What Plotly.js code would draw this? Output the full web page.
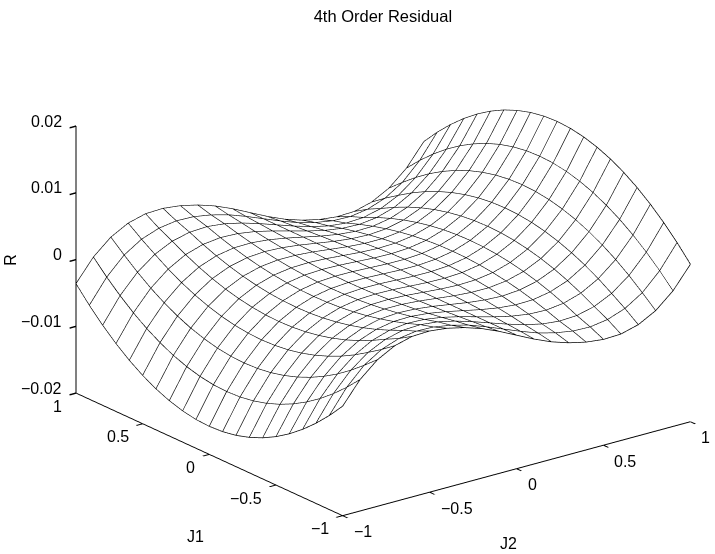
<!DOCTYPE html>
<html><head><meta charset="utf-8">
<script src="https://cdn.plot.ly/plotly-3.0.1.min.js"></script>
<style>html,body{margin:0;padding:0;background:#fff}#c{width:715px;height:554px}</style>
</head><body><div id="c"></div>
<script>
const J2 = [-1,-0.9,-0.8,-0.7,-0.6,-0.5,-0.4,-0.3,-0.2,-0.1,0,0.1,0.2,0.3,0.4,0.5,0.6,0.7,0.8,0.9,1];
const J1 = [-1,-0.9,-0.8,-0.7,-0.6,-0.5,-0.4,-0.3,-0.2,-0.1,0,0.1,0.2,0.3,0.4,0.5,0.6,0.7,0.8,0.9,1];
const R_e5 = [
[-360,-32,195,335,405,415,385,325,240,128,0,-128,-240,-325,-385,-415,-405,-335,-195,32,360],
[-592,-241,19,185,280,320,312,268,200,105,0,-105,-200,-268,-312,-320,-280,-185,-19,241,592],
[-799,-427,-147,51,177,241,255,227,168,89,0,-89,-168,-227,-255,-241,-177,-51,147,427,799],
[-982,-592,-294,-78,68,150,182,172,132,71,0,-71,-132,-172,-182,-150,-68,78,294,592,982],
[-1141,-735,-421,-189,-27,71,119,125,100,55,0,-55,-100,-125,-119,-71,27,189,421,735,1141],
[-1275,-855,-528,-282,-108,4,65,85,73,42,0,-42,-73,-85,-65,-4,108,282,528,855,1275],
[-1385,-954,-616,-359,-174,-51,21,52,51,31,0,-31,-51,-52,-21,51,174,359,616,954,1385],
[-1470,-1031,-684,-419,-225,-94,-13,26,34,22,0,-22,-34,-26,13,94,225,419,684,1031,1470],
[-1531,-1086,-733,-462,-262,-125,-37,8,22,16,0,-16,-22,-8,37,125,262,462,733,1086,1531],
[-1568,-1119,-762,-487,-284,-143,-52,-3,14,12,0,-12,-14,3,52,143,284,487,762,1119,1568],
[-1580,-1130,-772,-496,-291,-149,-57,-7,12,11,0,-11,-12,7,57,149,291,496,772,1130,1580],
[-1568,-1119,-762,-487,-284,-143,-52,-3,14,12,0,-12,-14,3,52,143,284,487,762,1119,1568],
[-1531,-1086,-733,-462,-262,-125,-37,8,22,16,0,-16,-22,-8,37,125,262,462,733,1086,1531],
[-1470,-1031,-684,-419,-225,-94,-13,26,34,22,0,-22,-34,-26,13,94,225,419,684,1031,1470],
[-1385,-954,-616,-359,-174,-51,21,52,51,31,0,-31,-51,-52,-21,51,174,359,616,954,1385],
[-1275,-855,-528,-282,-108,4,65,85,73,42,0,-42,-73,-85,-65,-4,108,282,528,855,1275],
[-1141,-735,-421,-189,-27,71,119,125,100,55,0,-55,-100,-125,-119,-71,27,189,421,735,1141],
[-982,-592,-294,-78,68,150,182,172,132,71,0,-71,-132,-172,-182,-150,-68,78,294,592,982],
[-799,-427,-147,51,177,241,255,227,168,89,0,-89,-168,-227,-255,-241,-177,-51,147,427,799],
[-592,-241,19,185,280,320,312,268,200,105,0,-105,-200,-268,-312,-320,-280,-185,-19,241,592],
[-360,-32,195,335,405,415,385,325,240,128,0,-128,-240,-325,-385,-415,-405,-335,-195,32,360]
];
const xyTicks = [-1,-0.5,0,0.5,1];
const xyLabels = ['\u22121','\u22120.5','0','0.5','1'];
const zTicks = [-0.02,-0.01,0,0.01,0.02];
const zLabels = ['\u22120.02','\u22120.01','0','0.01','0.02'];
const R = R_e5.map(r => r.map(v => v * 1e-5));
const font = {family:'Liberation Sans, Arial, sans-serif', size:16, color:'#000'};
const axis = (vals, range) => ({
  title:{text:''}, range:range, tickmode:'array', tickvals:vals, showticklabels:false,
  ticks:'outside', ticklen:8, tickcolor:'#000', tickwidth:3,
  showline:true, linecolor:'#000', linewidth:2, showgrid:false, zeroline:false,
  showbackground:false, showspikes:false
});
const note = (x,y,z,text,xanchor,xshift,yshift,extra) => Object.assign({
  x,y,z,text,xanchor,yanchor:'middle',xshift,yshift,showarrow:false,font:font
}, extra||{});
const annotations = [
  ...zTicks.map((v,i)=>note(-1,1,v,zLabels[i],'right',-12,5)),
  ...xyTicks.map((v,i)=>note(-1,v,-0.02,xyLabels[i],'right',-12,-13)),
  ...xyTicks.map((v,i)=>note(v,-1,-0.02,xyLabels[i],'left',9,-16)),
  note(-1,0,-0.02,'J1','center',-14,-82),
  note(0,-1,-0.02,'J2','center',-8,-75),
  note(-1,1,0,'R','center',-65,0,{textangle:-90})
];
const line = {show:true, start:-1, end:1, size:0.1, color:'#000', width:3, highlight:false};
const meshLine = (x,y,z) => ({type:'scatter3d', mode:'lines', x, y, z, hoverinfo:'skip', showlegend:false,
  line:{color:'#000', width:1.5}});
const rowLines = J1.map((v,i) => meshLine(J2, J2.map(()=>v), R[i]));
const colLines = J2.map((v,j) => meshLine(J1.map(()=>v), J1, R.map(r=>r[j])));
Plotly.newPlot('c', [{
  type:'surface', x:J2, y:J1, z:R, showscale:false, hoverinfo:'skip',
  colorscale:[[0,'#fff'],[1,'#fff']],
  lighting:{ambient:1, diffuse:0, specular:0, roughness:1, fresnel:0},
  contours:{x:line, y:line, z:{show:false, highlight:false}}
}, ...rowLines, ...colLines], {
  width:715, height:554, paper_bgcolor:'#fff', showlegend:false,
  margin:{l:0,r:0,t:0,b:0},
  title:{text:'4th Order Residual', font:Object.assign({},font,{size:16.5}), x:0.5355, xanchor:'center', y:0.971, yanchor:'middle'},
  scene:{
    domain:{x:[0,1],y:[0,1]},
    xaxis:axis(xyTicks, [-1,1]),
    yaxis:axis(xyTicks, [-1,1]),
    zaxis:axis(zTicks, [-0.02,0.02]),
    annotations:annotations,
    aspectmode:'manual', aspectratio:{x:1.582,y:1.582,z:1.03},
    camera:{projection:{type:'orthographic'}, center:{x:-0.0736,y:0.0567,z:-0.012}, up:{x:0,y:0,z:1},
      eye:{x:-1.1236,y:-1.3133,z:0.638}}
  }
}, {displayModeBar:false});
</script></body></html>
